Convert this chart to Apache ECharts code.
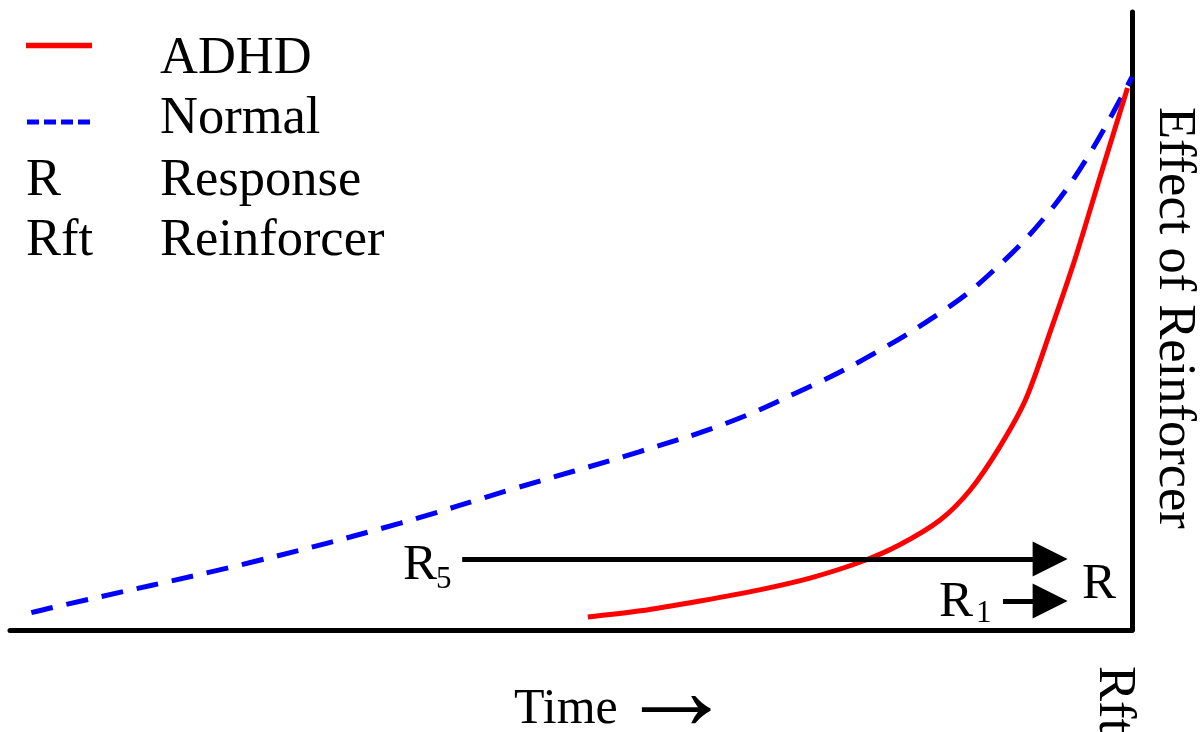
<!DOCTYPE html>
<html>
<head>
<meta charset="utf-8">
<script src="https://cdn.jsdelivr.net/npm/echarts@6/dist/echarts.min.js"></script>
<style>
html,body{margin:0;padding:0;background:#fff;}
#chart{width:1200px;height:732px;}
</style>
</head>
<body>
<div id="chart"></div>
<script>
// Time (0-100) vs Effect of reinforcer (0-100)
var normalTime   = [1.9, 3.7, 21.6, 34.8, 44.6, 56.0, 63.9, 70.1, 76.0, 83.3, 87.2, 92.0, 96.0, 100];
var normalEffect = [2.8, 3.6, 11.0, 17.3, 22.7, 28.8, 33.5, 38.4, 43.7, 51.8, 57.4, 66.3, 76.4, 89.5];
var adhdTime     = [51.5, 56.2, 61.5, 66.8, 71.3, 75.8, 79.3, 82.9, 85.6, 88.2, 90.5, 92.7, 94.9, 97.2, 99.6];
var adhdEffect   = [2.1, 3.1, 4.7, 6.5, 8.4, 11.0, 13.8, 17.8, 22.7, 29.6, 37.2, 48.2, 59.9, 73.6, 87.7];
// response arrows: [startTime, endTime, level]
var responseR5 = [40.3, 92.7, 11.5];
var responseR1 = [88.5, 92.7, 4.7];
var legendNames = ['ADHD', 'Normal', 'Response', 'Reinforcer'];
var legendKeys  = ['R', 'Rft'];

function pairs(xs, ys){ return xs.map(function(x,i){ return [x, ys[i]]; }); }

var FONT = '"Liberation Serif", "Times New Roman", serif';
var chart = echarts.init(document.getElementById('chart'));

function txt(x, y, s, size, extra){
  var o = {type:'text', x:x, y:y, silent:true,
    style:{text:s, font: size + 'px ' + FONT, fill:'#000', align:'left', verticalAlign:'middle'}};
  if (extra) for (var k in extra) o[k] = extra[k];
  return o;
}

var option = {
  animation: false,
  backgroundColor: '#fff',
  grid: {left: 10, right: 68, top: 12, bottom: 102},
  xAxis: {type:'value', min:0, max:100, position:'bottom',
    axisLine:{show:true, lineStyle:{color:'#000', width:5}},
    axisTick:{show:false}, axisLabel:{show:false}, splitLine:{show:false}},
  yAxis: {type:'value', min:0, max:100, position:'right',
    axisLine:{show:true, onZero:false, lineStyle:{color:'#000', width:5}},
    axisTick:{show:false}, axisLabel:{show:false}, splitLine:{show:false}},
  series: [
    {name:'Normal', type:'line', data: pairs(normalTime, normalEffect), smooth:0.4, symbol:'none',
      lineStyle:{color:'#0000ff', width:5, type:[22,14]}},
    {name:'ADHD', type:'line', data: pairs(adhdTime, adhdEffect), smooth:0.3, symbol:'none',
      lineStyle:{color:'#ff0000', width:5}},
    {name:'arrows', type:'line', data: [], symbol:'none',
      markLine:{silent:true, symbol:['none','triangle'], symbolSize:[35,35], label:{show:false},
        lineStyle:{color:'#000', width:5, type:'solid'},
        data:[
          [{coord:[responseR5[0], responseR5[2]]}, {coord:[responseR5[1], responseR5[2]]}],
          [{coord:[responseR1[0], responseR1[2]]}, {coord:[responseR1[1], responseR1[2]]}]
        ]}}
  ],
  graphic: [
    {type:'line', silent:true, shape:{x1:26, y1:45.5, x2:92, y2:45.5}, style:{stroke:'#ff0000', lineWidth:5.5}},
    {type:'line', silent:true, shape:{x1:27, y1:122, x2:93, y2:122}, style:{stroke:'#0000ff', lineWidth:5, lineDash:[12,5]}},
    txt(160, 59, legendNames[0], 52.5),
    txt(160, 119, legendNames[1], 52.5),
    txt(26, 181, legendKeys[0], 52.5),
    txt(160, 181, legendNames[2], 52.5),
    txt(26, 241, legendKeys[1], 52.5),
    txt(160, 241, legendNames[3], 52.5),
    txt(1174, 107, 'Effect of Reinforcer', 52.5, {rotation:-Math.PI/2}),
    txt(1114, 666, 'Rft', 52.5, {rotation:-Math.PI/2}),
    txt(514, 710, 'Time', 50),
    txt(618, 699, '\u2192', 116),
    txt(403, 566, 'R', 51),
    txt(436, 580, '5', 31),
    txt(939, 603, 'R', 51),
    txt(976, 614, '1', 31),
    txt(1082, 585, 'R', 51)
  ]
};
chart.setOption(option);
</script>
</body>
</html>
